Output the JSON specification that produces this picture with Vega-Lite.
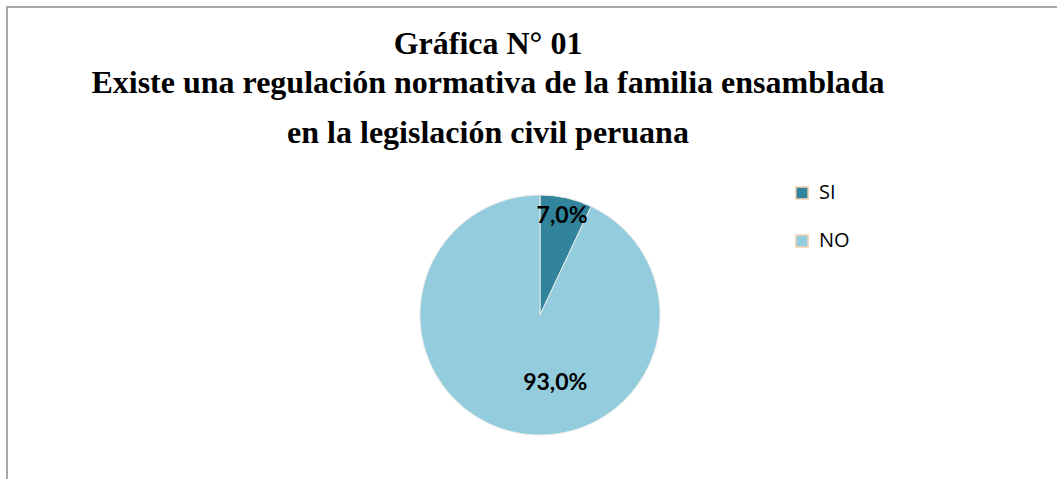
{
  "$schema": "https://vega.github.io/schema/vega-lite/v6.json",
  "autosize": {"type": "none"},
  "padding": {"left": 7, "top": 7, "right": 0, "bottom": 0},
  "width": 1066,
  "height": 616,
  "background": "white",
  "config": {"view": {"stroke": null}},
  "title": {
    "text": ["Gráfica N° 01", "Existe una regulación normativa de la familia ensamblada"],
    "subtitle": "en la legislación civil peruana",
    "font": "Liberation Serif",
    "fontSize": 32,
    "fontWeight": "bold",
    "color": "black",
    "subtitleFont": "Liberation Serif",
    "subtitleFontSize": 32,
    "subtitleFontWeight": "bold",
    "subtitleColor": "black",
    "lineHeight": 39,
    "subtitleLineHeight": 39,
    "subtitlePadding": 18,
    "anchor": "middle",
    "dx": -52,
    "offset": -144
  },
  "layer": [
    {
      "data": {"values": [{"marco": "borde"}]},
      "mark": {"type": "rect", "fill": null, "stroke": "#8c8c8c", "strokeWidth": 1.5}
    },
    {
      "data": {
        "values": [
          {"respuesta": "SI", "porcentaje": 7.0, "etiqueta": "7,0%"},
          {"respuesta": "NO", "porcentaje": 93.0, "etiqueta": "93,0%"}
        ]
      },
      "encoding": {
        "theta": {"field": "porcentaje", "type": "quantitative", "stack": true},
        "order": {"field": "respuesta", "sort": "descending"},
        "color": {
          "field": "respuesta",
          "type": "nominal",
          "sort": ["SI", "NO"],
          "scale": {"domain": ["SI", "NO"], "range": ["#31849B", "#93CDDD"]},
          "legend": {
            "title": null,
            "orient": "none",
            "legendX": 785,
            "legendY": 176,
            "symbolType": "square",
            "symbolSize": 150,
            "symbolStrokeColor": "#FAD3B0",
            "symbolStrokeWidth": 1.5,
            "labelFont": "Open Sans",
            "labelFontSize": 20,
            "labelColor": "black",
            "labelOffset": 7,
            "rowPadding": 28
          }
        }
      },
      "layer": [
        {
          "mark": {"type": "arc", "outerRadius": 120, "stroke": "#e8e8e8", "strokeWidth": 1}
        },
        {
          "transform": [{"filter": "datum.respuesta === 'SI'"}],
          "mark": {"type": "text", "radius": 101, "font": "Lato", "fontSize": 23, "fontWeight": "bold"},
          "encoding": {
            "text": {"field": "etiqueta", "type": "nominal"},
            "color": {"value": "black"}
          }
        },
        {
          "transform": [{"filter": "datum.respuesta === 'NO'"}],
          "mark": {"type": "text", "radius": 70, "font": "Lato", "fontSize": 23, "fontWeight": "bold"},
          "encoding": {
            "text": {"field": "etiqueta", "type": "nominal"},
            "color": {"value": "black"}
          }
        }
      ]
    }
  ]
}
